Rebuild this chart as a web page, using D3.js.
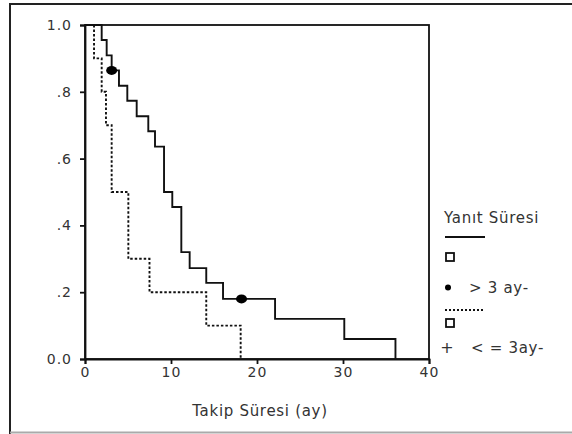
<!DOCTYPE html>
<html>
<head>
<meta charset="utf-8">
<script src="https://cdn.jsdelivr.net/npm/d3@7"></script>
<style>
  body { margin: 0; background: #fff; }
  text { font-family: "DejaVu Sans", sans-serif; fill: #333; }
</style>
</head>
<body>
<div id="viz"></div>
<script>
// Kaplan-Meier steps
let longTimes  = [0, 1.94, 2.52, 3.1, 3.95, 4.92, 6.01, 7.36, 8.14, 9.19, 10.15, 11.2, 12.17, 14.1, 16.05, 22.1, 30.15, 36.1]
let longSurv   = [1, 0.955, 0.909, 0.864, 0.818, 0.773, 0.727, 0.682, 0.636, 0.5, 0.455, 0.32, 0.272, 0.228, 0.18, 0.12, 0.06, 0]
let longCensor = [[3.1, 0.864], [18.2, 0.18]]

let shortTimes = [0, 1.05, 1.94, 2.44, 3.1, 5.04, 7.5, 14.1, 18.1]
let shortSurv  = [1, 0.9, 0.8, 0.7, 0.5, 0.3, 0.2, 0.1, 0]

let xTicks = [0, 10, 20, 30, 40]
let yTicks = [0, 0.2, 0.4, 0.6, 0.8, 1.0]
let yLabels = ["0.0", ".2", ".4", ".6", ".8", "1.0"]

let svg = d3.select("#viz")
  .append("svg")
    .attr("width", 572)
    .attr("height", 434)

// outer frame
svg.append("path")
    .attr("d", "M10,434 V4 H572")
    .attr("fill", "none")
    .attr("stroke", "#222")
    .attr("stroke-width", 2)
svg.append("line")
    .attr("x1", 10).attr("x2", 572)
    .attr("y1", 432.5).attr("y2", 432.5)
    .attr("stroke", "#aaa")
    .attr("stroke-width", 2)

let xScale = d3.scaleLinear().domain([0, 40]).range([85, 429])
let yScale = d3.scaleLinear().domain([0, 1]).range([359, 25])

// plot box
svg.append("rect")
    .attr("x", xScale(0)).attr("y", yScale(1))
    .attr("width", xScale(40) - xScale(0))
    .attr("height", yScale(0) - yScale(1))
    .attr("fill", "none")
    .attr("stroke", "#111")
    .attr("stroke-width", 1.8)

let xAxis = d3.axisBottom(xScale).tickValues(xTicks).tickSize(5).tickPadding(3)
let yAxis = d3.axisLeft(yScale).tickValues(yTicks).tickSize(5).tickPadding(8)
    .tickFormat((d, i) => yLabels[i])

let gx = svg.append("g")
    .attr("transform", `translate(0,${yScale(0)})`)
    .call(xAxis)
let gy = svg.append("g")
    .attr("transform", `translate(${xScale(0)},0)`)
    .call(yAxis)

;[gx, gy].forEach(g => {
  g.select(".domain").attr("stroke", "#111").attr("stroke-width", 1.8)
  g.selectAll(".tick line").attr("stroke", "#111").attr("stroke-width", 1.8)
  g.selectAll(".tick text")
    .style("font-family", "'DejaVu Sans', sans-serif")
    .attr("font-size", 14)
    .attr("letter-spacing", 1)
    .attr("fill", "#333")
})

// step lines
let stepLine = d3.line()
    .x(d => xScale(d[0]))
    .y(d => yScale(d[1]))
    .curve(d3.curveStepAfter)

let longData = longTimes.map((t, i) => [t, longSurv[i]])
let shortData = shortTimes.map((t, i) => [t, shortSurv[i]])

svg.append("path")
    .datum(longData)
    .attr("d", stepLine)
    .attr("fill", "none")
    .attr("stroke", "#111")
    .attr("stroke-width", 1.9)

svg.append("path")
    .datum(shortData)
    .attr("d", stepLine)
    .attr("fill", "none")
    .attr("stroke", "#111")
    .attr("stroke-width", 1.9)
    .attr("stroke-dasharray", "2.5,2")

svg.selectAll("ellipse.cens")
  .data(longCensor)
  .join("ellipse")
    .attr("class", "cens")
    .attr("cx", d => xScale(d[0]))
    .attr("cy", d => yScale(d[1]))
    .attr("rx", 5.5)
    .attr("ry", 4.5)
    .attr("fill", "#000")

// axis title
svg.append("text")
    .attr("x", 260)
    .attr("y", 416)
    .attr("text-anchor", "middle")
    .attr("font-size", 15)
    .attr("letter-spacing", 0.7)
    .text("Takip Süresi (ay)")

// legend
let lg = svg.append("g").attr("font-size", 15).attr("letter-spacing", 0.7)
lg.append("text").attr("x", 444).attr("y", 223).text("Yanıt Süresi")
lg.append("line").attr("x1", 445).attr("x2", 485).attr("y1", 237).attr("y2", 237)
    .attr("stroke", "#111").attr("stroke-width", 2)
lg.append("rect").attr("x", 446).attr("y", 253).attr("width", 8).attr("height", 8)
    .attr("fill", "none").attr("stroke", "#111").attr("stroke-width", 1.8)
lg.append("circle").attr("cx", 448).attr("cy", 287.5).attr("r", 3).attr("fill", "#000")
lg.append("text").attr("x", 469).attr("y", 293).text("> 3 ay-")
lg.append("line").attr("x1", 445).attr("x2", 485).attr("y1", 310).attr("y2", 310)
    .attr("stroke", "#111").attr("stroke-width", 1.8).attr("stroke-dasharray", "2,2")
lg.append("rect").attr("x", 446).attr("y", 319).attr("width", 8).attr("height", 8)
    .attr("fill", "none").attr("stroke", "#111").attr("stroke-width", 1.8)
lg.append("text").attr("x", 447).attr("y", 353).attr("text-anchor", "middle")
    .attr("letter-spacing", 0).attr("font-size", 16).attr("fill", "#222").text("+")
lg.append("text").attr("x", 471).attr("y", 353).text("< = 3ay-")
</script>
</body>
</html>
